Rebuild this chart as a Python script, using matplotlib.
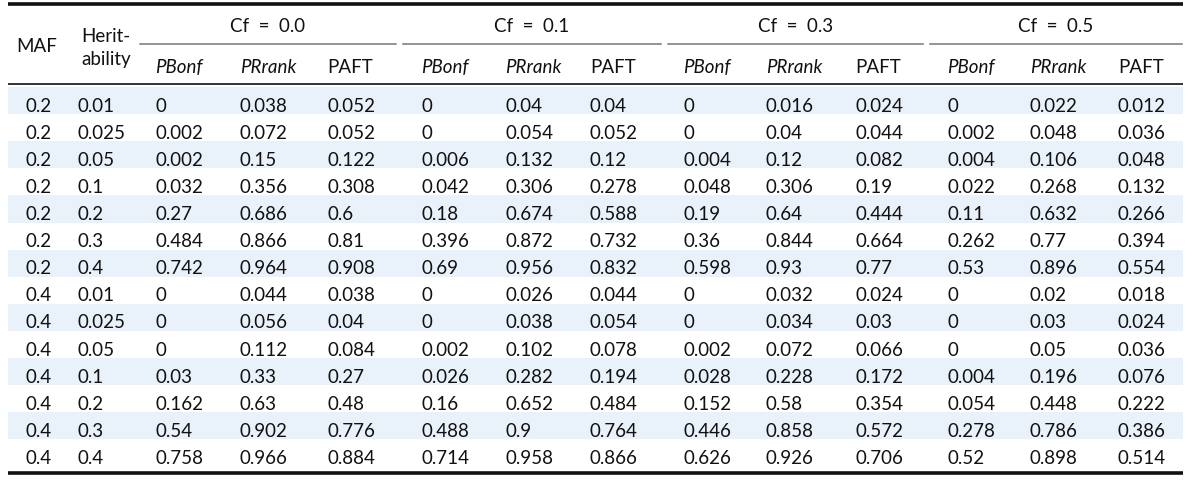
import matplotlib.pyplot as plt

plt.rcParams['font.family'] = ['Lato', 'DejaVu Sans']

# table data
maf = [0.2] * 7 + [0.4] * 7
heritability = [0.01, 0.025, 0.05, 0.1, 0.2, 0.3, 0.4] * 2

cf_labels = ['Cf  =  0.0', 'Cf  =  0.1', 'Cf  =  0.3', 'Cf  =  0.5']
sub_labels = ['PBonf', 'PRrank', 'PAFT']

pbonf_00 = [0, 0.002, 0.002, 0.032, 0.27, 0.484, 0.742, 0, 0, 0, 0.03, 0.162, 0.54, 0.758]
prank_00 = [0.038, 0.072, 0.15, 0.356, 0.686, 0.866, 0.964, 0.044, 0.056, 0.112, 0.33, 0.63, 0.902, 0.966]
paft_00 = [0.052, 0.052, 0.122, 0.308, 0.6, 0.81, 0.908, 0.038, 0.04, 0.084, 0.27, 0.48, 0.776, 0.884]

pbonf_01 = [0, 0, 0.006, 0.042, 0.18, 0.396, 0.69, 0, 0, 0.002, 0.026, 0.16, 0.488, 0.714]
prank_01 = [0.04, 0.054, 0.132, 0.306, 0.674, 0.872, 0.956, 0.026, 0.038, 0.102, 0.282, 0.652, 0.9, 0.958]
paft_01 = [0.04, 0.052, 0.12, 0.278, 0.588, 0.732, 0.832, 0.044, 0.054, 0.078, 0.194, 0.484, 0.764, 0.866]

pbonf_03 = [0, 0, 0.004, 0.048, 0.19, 0.36, 0.598, 0, 0, 0.002, 0.028, 0.152, 0.446, 0.626]
prank_03 = [0.016, 0.04, 0.12, 0.306, 0.64, 0.844, 0.93, 0.032, 0.034, 0.072, 0.228, 0.58, 0.858, 0.926]
paft_03 = [0.024, 0.044, 0.082, 0.19, 0.444, 0.664, 0.77, 0.024, 0.03, 0.066, 0.172, 0.354, 0.572, 0.706]

pbonf_05 = [0, 0.002, 0.004, 0.022, 0.11, 0.262, 0.53, 0, 0, 0, 0.004, 0.054, 0.278, 0.52]
prank_05 = [0.022, 0.048, 0.106, 0.268, 0.632, 0.77, 0.896, 0.02, 0.03, 0.05, 0.196, 0.448, 0.786, 0.898]
paft_05 = [0.012, 0.036, 0.048, 0.132, 0.266, 0.394, 0.554, 0.018, 0.024, 0.036, 0.076, 0.222, 0.386, 0.514]

columns = [maf, heritability,
           pbonf_00, prank_00, paft_00,
           pbonf_01, prank_01, paft_01,
           pbonf_03, prank_03, paft_03,
           pbonf_05, prank_05, paft_05]

# layout (pixels)
col_x = [25, 77, 155, 240, 327, 421, 505, 590, 683, 766, 855, 947, 1030, 1118]
group_spans = [(140, 396), (403, 661), (668, 923), (930, 1182)]
left, right = 8, 1183
row_top = 87
row_h = 27.1
fs = 13.5
text_color = '#111111'
shade = '#e9f1fa'

fig = plt.figure(figsize=(12, 4.8), dpi=100)
ax = fig.add_axes([0, 0, 1, 1])
ax.set_xlim(0, 1200)
ax.set_ylim(480, 0)
ax.axis('off')

n_rows = len(maf)
for i in range(n_rows):
    y0 = row_top + i * row_h
    if i % 2 == 0:
        ax.fill_between([left, right], y0, y0 + row_h, color=shade, lw=0)
    for j, col in enumerate(columns):
        ax.text(col_x[j], y0 + 24.7, f'{col[i]:g}', fontsize=fs,
                color=text_color, ha='left', va='baseline')

# header
ax.text(37, 51.7, 'MAF', fontsize=fs, color=text_color, ha='center', va='baseline')
ax.text(106, 41.7, 'Herit-', fontsize=fs, color=text_color, ha='center', va='baseline')
ax.text(106, 65, 'ability', fontsize=fs, color=text_color, ha='center', va='baseline')

for g, (x0, x1) in enumerate(group_spans):
    ax.text((x0 + x1) / 2, 31.7, cf_labels[g], fontsize=fs, color=text_color,
            ha='center', va='baseline')
    ax.plot([x0, x1], [44, 44], color='#777777', lw=1.1)
    for k, lab in enumerate(sub_labels):
        x = col_x[2 + g * 3 + k]
        style = 'normal' if lab == 'PAFT' else 'italic'
        ax.text(x, 73, lab, fontsize=fs, color=text_color, ha='left',
                va='baseline', style=style)

ax.plot([left, right], [3.5, 3.5], color='#111111', lw=2.6, solid_capstyle='butt')
ax.plot([left, right], [84, 84], color='#222222', lw=1.3, solid_capstyle='butt')
ax.plot([left, right], [473, 473], color='#111111', lw=2.6, solid_capstyle='butt')

fig.savefig('out.png', dpi=100)
